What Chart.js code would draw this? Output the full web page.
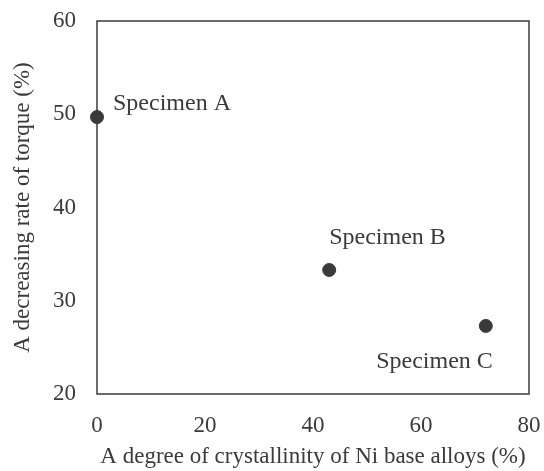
<!DOCTYPE html>
<html>
<head>
<meta charset="utf-8">
<script src="https://cdn.jsdelivr.net/npm/chart.js@4/dist/chart.umd.min.js"></script>
<style>
  html, body { margin: 0; padding: 0; background: #fff; }
  #wrap { width: 544px; height: 471px; }
</style>
</head>
<body>
<div id="wrap"><canvas id="c" width="544" height="471"></canvas></div>
<script>
// Specimen measurements
const specimens = ['Specimen A', 'Specimen B', 'Specimen C'];
const crystallinity = [0, 43, 72];        // x, %
const torqueDecrease = [49.7, 33.3, 27.3]; // y, %
const xTicks = [0, 20, 40, 60, 80];
const yTicks = [20, 30, 40, 50, 60];

const INK = '#3a3a3a';
const FONT = 'Liberation Serif, "Times New Roman", serif';

// label placement relative to each point (pixels): dx, dy to text baseline, alignment
const labelPlacement = [
  { dx: 16, dy: -7, align: 'left' },
  { dx: 0, dy: -26, align: 'left' },
  { dx: 7, dy: 42, align: 'right' }
];

const frame = {
  id: 'frame',
  afterDraw(chart) {
    const { ctx, chartArea: a } = chart;
    ctx.save();
    ctx.strokeStyle = INK;
    ctx.lineWidth = 1.5;
    ctx.strokeRect(a.left, a.top, a.right - a.left, a.bottom - a.top);
    ctx.restore();
  }
};

const pointLabels = {
  id: 'pointLabels',
  afterDatasetsDraw(chart) {
    const { ctx } = chart;
    const meta = chart.getDatasetMeta(0);
    ctx.save();
    ctx.fillStyle = INK;
    ctx.font = '24px ' + FONT;
    ctx.textBaseline = 'alphabetic';
    meta.data.forEach((pt, i) => {
      const p = labelPlacement[i];
      ctx.textAlign = p.align;
      ctx.fillText(specimens[i], pt.x + p.dx, pt.y + p.dy);
    });
    ctx.restore();
  }
};

new Chart(document.getElementById('c'), {
  type: 'scatter',
  data: {
    datasets: [{
      data: crystallinity.map((x, i) => ({ x, y: torqueDecrease[i] })),
      backgroundColor: INK,
      borderColor: INK,
      pointRadius: 6.5,
      pointHoverRadius: 6.5,
      clip: false
    }]
  },
  options: {
    responsive: false,
    animation: false,
    devicePixelRatio: 1,
    layout: { padding: { top: 21, right: 15, left: 0, bottom: 0 } },
    plugins: { legend: { display: false }, tooltip: { enabled: false } },
    scales: {
      x: {
        type: 'linear',
        min: xTicks[0], max: xTicks[xTicks.length - 1],
        afterBuildTicks: s => { s.ticks = xTicks.map(v => ({ value: v })); },
        grid: { display: false, drawTicks: false },
        border: { display: false },
        ticks: { color: INK, font: { family: FONT, size: 23 }, padding: 18, maxRotation: 0 },
        title: { display: true, text: 'A degree of crystallinity of Ni base alloys (%)', color: INK, font: { family: FONT, size: 23 }, padding: { top: 6, bottom: 0 } },
        afterFit: s => { s.height = 77; s.paddingLeft = 0; s.paddingRight = 0; }
      },
      y: {
        type: 'linear',
        min: yTicks[0], max: yTicks[yTicks.length - 1],
        afterBuildTicks: s => { s.ticks = yTicks.map(v => ({ value: v })); },
        grid: { display: false, drawTicks: false },
        border: { display: false },
        ticks: { color: INK, font: { family: FONT, size: 23 }, padding: 21 },
        title: { display: true, text: 'A decreasing rate of torque (%)', color: INK, font: { family: FONT, size: 23 }, padding: { top: 9, bottom: 0 } },
        afterFit: s => { s.width = 97; s.paddingTop = 0; s.paddingBottom = 0; }
      }
    }
  },
  plugins: [frame, pointLabels]
});
</script>
</body>
</html>
